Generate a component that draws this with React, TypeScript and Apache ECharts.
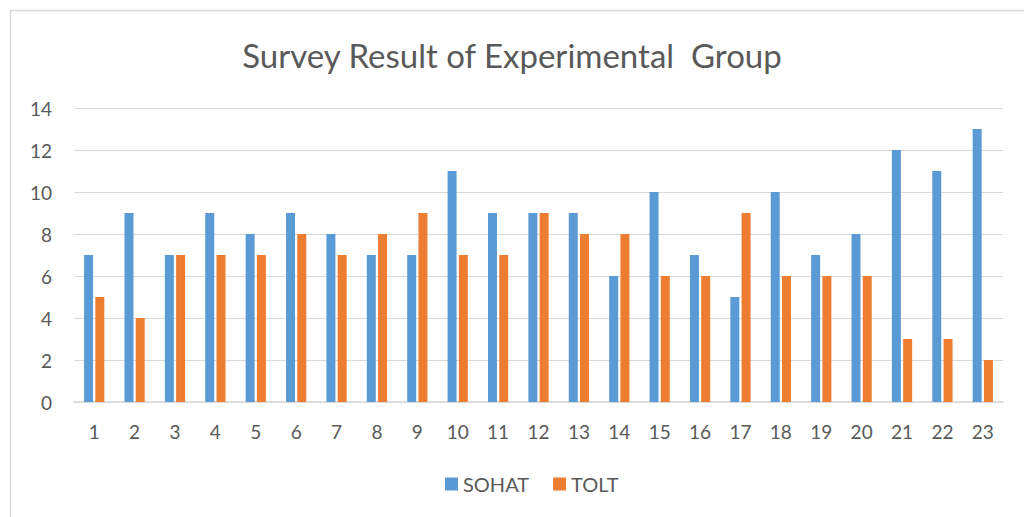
import React, { useEffect, useRef } from "react";
import * as echarts from "echarts";

const categories = ["1","2","3","4","5","6","7","8","9","10","11","12","13","14","15","16","17","18","19","20","21","22","23"];
const sohat = [7,9,7,9,8,9,8,7,7,11,9,9,9,6,10,7,5,10,7,8,12,11,13];
const tolt = [5,4,7,7,7,8,7,8,9,7,7,9,8,8,6,6,9,6,6,6,3,3,2];

const FONT = "Lato, 'Open Sans', sans-serif";

export default function App() {
  const ref = useRef<HTMLDivElement>(null);
  useEffect(() => {
    if (!ref.current) return;
    const chart = echarts.init(ref.current, null, { renderer: "svg" });
    chart.setOption({
      animation: false,
      backgroundColor: "#ffffff",
      textStyle: { fontFamily: FONT },
      title: {
        text: "Survey Result of Experimental  Group",
        left: "center",
        top: 33,
        textStyle: { fontFamily: FONT, fontSize: 33, fontWeight: "normal", color: "#595959" },
      },
      graphic: [
        {
          type: "rect",
          shape: { x: 10.5, y: 10.5, width: 1030, height: 530 },
          style: { fill: "none", stroke: "#d9d9d9", lineWidth: 1.5 },
          silent: true,
        },
      ],
      legend: {
        bottom: 18,
        left: 440,
        itemWidth: 13,
        itemHeight: 13,
        itemGap: 24,
        icon: "rect",
        textStyle: { fontFamily: FONT, fontSize: 20, color: "#595959" },
        data: ["SOHAT", "TOLT"],
      },
      grid: { left: 74, right: 21, top: 108, bottom: 115, containLabel: false },
      xAxis: {
        type: "category",
        data: categories,
        axisLine: { lineStyle: { color: "#d9d9d9", width: 1.5 } },
        axisTick: { show: false },
        axisLabel: { fontFamily: FONT, fontSize: 19, color: "#595959", margin: 20 },
      },
      yAxis: {
        type: "value",
        min: 0,
        max: 14,
        interval: 2,
        axisLine: { show: false },
        axisTick: { show: false },
        splitLine: { lineStyle: { color: "#d9d9d9", width: 1 } },
        axisLabel: { fontFamily: FONT, fontSize: 19, color: "#595959", margin: 22 },
      },
      series: [
        { name: "SOHAT", type: "bar", data: sohat, barWidth: 9, barGap: "25%", itemStyle: { color: "#5b9bd5" } },
        { name: "TOLT", type: "bar", data: tolt, barWidth: 9, barGap: "25%", itemStyle: { color: "#ed7d31" } },
      ],
    });
    return () => chart.dispose();
  }, []);
  return (
    <div
      ref={ref}
      style={{ position: "fixed", left: 0, top: 0, width: 1024, height: 517 }}
    />
  );
}
